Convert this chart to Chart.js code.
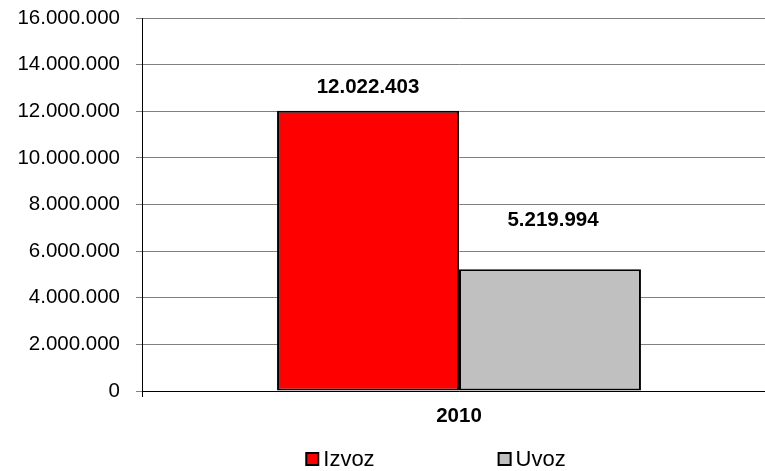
<!DOCTYPE html>
<html>
<head>
<meta charset="utf-8">
<script src="https://cdn.jsdelivr.net/npm/chart.js@4"></script>
<style>
  html, body { margin: 0; padding: 0; background: #fff; overflow: hidden; }
  #wrap { width: 765px; height: 471px; overflow: hidden; }
</style>
</head>
<body>
<div id="wrap"><canvas id="grafikon" width="780" height="471"></canvas></div>
<script>
// podaci
const godine = ['2010'];
const izvoz = [12022403];
const uvoz = [5219994];
const yTicks = [0, 2000000, 4000000, 6000000, 8000000, 10000000, 12000000, 14000000, 16000000];

const FONT = "'Liberation Sans', Arial, sans-serif";

function formatBroj(v) {
    return String(v).replace(/\B(?=(\d{3})+(?!\d))/g, '.');
}

// oznake vrijednosti iznad stupaca
const oznake = {
    id: 'oznake',
    afterDatasetsDraw(chart) {
        const c = chart.ctx;
        c.save();
        c.font = 'bold 20.5px ' + FONT;
        c.fillStyle = '#000';
        c.textAlign = 'center';
        c.textBaseline = 'middle';
        chart.data.datasets.forEach((ds, i) => {
            chart.getDatasetMeta(i).data.forEach((bar, j) => {
                c.fillText(formatBroj(ds.data[j]), bar.x + (ds.labelDx || 0), bar.y - ds.labelOffset);
            });
        });
        c.restore();
    }
};

// legenda na dnu
const legenda = {
    id: 'legenda',
    afterDraw(chart) {
        const c = chart.ctx;
        const box = 12, razmak = 5, izmedju = 124, cy = 459, centar = 436;
        c.save();
        c.font = '22px ' + FONT;
        c.textBaseline = 'middle';
        const ds = chart.data.datasets;
        const sirine = ds.map(d => box + razmak + c.measureText(d.label).width);
        const ukupno = sirine.reduce((a, b) => a + b, 0) + izmedju * (ds.length - 1);
        let x = centar - ukupno / 2;
        ds.forEach((d, i) => {
            c.fillStyle = d.backgroundColor;
            c.fillRect(x, cy - box / 2, box, box);
            c.lineWidth = 2;
            c.strokeStyle = '#000';
            c.strokeRect(x, cy - box / 2, box, box);
            c.fillStyle = '#000';
            c.fillText(d.label, x + box + razmak, cy + 1);
            x += sirine[i] + izmedju;
        });
        c.restore();
    }
};

new Chart(document.getElementById('grafikon'), {
    type: 'bar',
    data: {
        labels: godine,
        datasets: [
            { label: 'Izvoz', data: izvoz, backgroundColor: '#FF0000', borderColor: '#000', borderWidth: 2, borderSkipped: false, labelOffset: 23 },
            { label: 'Uvoz', data: uvoz, backgroundColor: '#C0C0C0', borderColor: '#000', borderWidth: 2, borderSkipped: false, labelOffset: 49, labelDx: 3 }
        ]
    },
    options: {
        responsive: false,
        animation: false,
        layout: { padding: { left: 0, right: 4, top: 18, bottom: 0 } },
        plugins: { legend: { display: false }, tooltip: { enabled: false } },
        datasets: { bar: { categoryPercentage: 0.574, barPercentage: 1 } },
        scales: {
            y: {
                min: 0,
                max: 16000000,
                afterFit: s => { s.width = 142; s.paddingTop = 0; s.paddingBottom = 0; },
                afterBuildTicks: s => { s.ticks = yTicks.map(v => ({ value: v })); },
                ticks: {
                    color: '#000',
                    font: { family: FONT, size: 20.5 },
                    padding: 16,
                    callback: v => formatBroj(v)
                },
                grid: { color: '#808080', lineWidth: 1, tickLength: 6 },
                border: { color: '#000', width: 1 }
            },
            x: {
                afterFit: s => { s.height = 80; s.paddingLeft = 0; s.paddingRight = 0; },
                ticks: {
                    color: '#000',
                    font: { family: FONT, size: 20.5, weight: 'bold' },
                    padding: 7
                },
                grid: { drawOnChartArea: false, color: '#000', tickLength: 6 },
                border: { color: '#000', width: 1 }
            }
        }
    },
    plugins: [oznake, legenda]
});
</script>
</body>
</html>
